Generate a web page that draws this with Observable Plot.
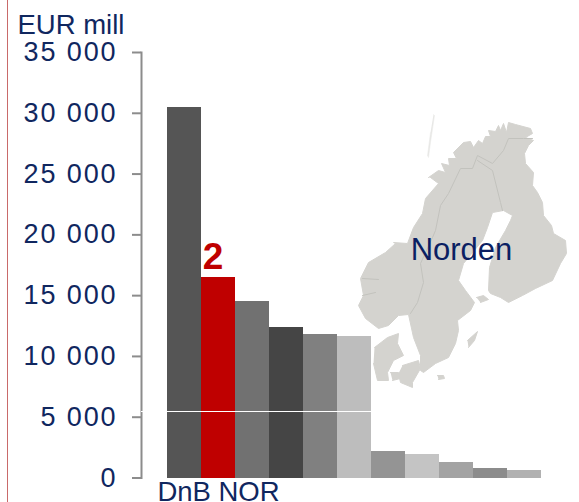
<!DOCTYPE html>
<html><head><meta charset="utf-8">
<script src="https://cdn.jsdelivr.net/npm/d3@7"></script>
<script src="https://cdn.jsdelivr.net/npm/@observablehq/plot@0.6"></script>
<style>
html,body{margin:0;padding:0;background:#fff;overflow:hidden}
#wrap{position:relative;width:579px;height:502px;overflow:hidden}
#wrap svg{position:absolute;overflow:hidden}
#edge{position:absolute;left:7px;top:0;width:1px;height:502px;background:#c96a6a}
#wrap g[aria-label="y-axis tick label"] text{letter-spacing:1.9px}
#wrap g.land{filter:blur(0.4px)}
</style></head><body>
<div id="wrap"><div id="edge"></div></div>
<script>
const ranks = [1,2,3,4,5,6,7,8,9,10,11];
const values = [30480,16500,14500,12380,11800,11640,2180,1930,1270,780,620];
const barColors = ["#555555","#bf0000","#717171","#454545","#808080","#bdbdbd","#949494","#c4c4c4","#a3a3a3","#8c8c8c","#b1b1b1"];
const barLabels = ["","DnB NOR","","","","","","","","",""];
const yTicks = [0,5000,10000,15000,20000,25000,30000,35000];
const navy = "#10275f";
const fmt = d => d3.format(",")(d).replace(",", " ");

// Map outlines as [east, north] map units
const mainland = [[73,218],[83,225],[90,223],[86,232],[94,230],[93,237],[101,237],[98,243],[108,253],[115,254],[118,248],[123,255],[127,252],[130,259],[135,259],[133,265],[140,264],[143,270],[145,265],[148,272],[151,263],[153,273],[160,271],[175,267],[177,262],[170,258],[178,255],[173,250],[169,242],[170,232],[178,223],[177,210],[182,203],[187,193],[188,180],[196,170],[198,162],[210,155],[211,142],[205,132],[197,115],[180,107],[167,100],[153,93],[145,98],[135,102],[133,105],[134,128],[140,148],[150,165],[155,175],[157,180],[148,185],[137,183],[132,168],[127,155],[108,132],[103,115],[110,105],[119,93],[115,85],[102,75],[103,65],[100,52],[93,38],[80,32],[68,23],[65,25],[65,40],[58,58],[53,81],[43,80],[33,70],[23,67],[10,77],[3,90],[8,100],[5,117],[13,133],[30,143],[40,152],[38,153],[52,152],[58,168],[67,182],[70,197],[83,212],[75,218]];
const jutland = [[19,48],[32,58],[43,62],[42,52],[48,40],[38,35],[32,23],[33,15],[22,15],[18,32]];
const zealand = [[47,30],[63,35],[65,27],[57,13],[57,8],[45,13],[43,22]];
const funen = [[35,23],[43,23],[45,17],[37,15]];
const gotland = [[112,55],[122,64],[119,55],[113,48]];
const bornholm = [[82,20],[88,20],[89,17],[83,16]];
const aland = [[121,98],[128,100],[133,96],[125,93]];
const svalbardTrace = [[78,281],[79,280],[75,253],[73,238],[72,240],[75,263]];
const borderNorway = [[177,257],[168,257],[153,257],[148,245],[137,232],[122,240],[117,227],[105,227],[93,202],[85,190],[80,165],[77,158],[65,132],[68,113],[62,93],[55,82]];
const borderFinland = [[122,235],[137,225],[145,193],[147,185]];
const fjordNorth = [[7,117],[23,116]];
const fjordSouth = [[7,100],[20,103]];

const rows = (name, pts) => pts.map(([east, north]) => ({name, east, north}));
const landParts = {mainland, jutland, zealand, funen, gotland, bornholm, aland};
const landRows = Object.entries(landParts).flatMap(([k, v]) => rows(k, v));
const borderRows = [...rows("no", borderNorway), ...rows("fi", borderFinland), ...rows("f1", fjordNorth), ...rows("f2", fjordSouth)];

const mapPlot = Plot.plot({
  width: 215, height: 285, margin: 0,
  style: {background: "transparent"},
  x: {domain: [0,215], axis: null},
  y: {domain: [0,285], axis: null},
  marks: [
    Plot.line(rows("svalbard", svalbardTrace), {x:"east", y:"north", fill:"#e8e8e6", stroke:"#e8e8e6", strokeWidth:0.5, className:"land"}),
    Plot.line(landRows, {x:"east", y:"north", z:"name", fill:"#d4d3cf", stroke:"#d4d3cf", strokeWidth:1, strokeLinejoin:"round", className:"land"}),
    Plot.line(borderRows, {x:"east", y:"north", z:"name", stroke:"#c2c2bd", strokeWidth:1, className:"land"}),
    Plot.text(["Norden"], {x:[106], y:[145], text:d=>d, fontSize:31, fill:"#0b1f63", fontFamily:"Liberation Sans"})
  ]
});
mapPlot.style.left = "355px";
mapPlot.style.top = "110px";

const data = ranks.map((rank,i)=>({rank, value:values[i], color:barColors[i]}));
const chart = Plot.plot({
  width: 579, height: 502,
  marginTop: 52, marginBottom: 24.5, marginLeft: 141, marginRight: 37,
  style: {background:"transparent", fontFamily:"Liberation Sans"},
  x: {domain: ranks, range:[166.6,542], padding:0, label:null},
  y: {domain:[0,35000], label:null},
  marks: [
    Plot.barY(data, {x:"rank", y:"value", fill:"color", shapeRendering:"crispEdges"}),
    Plot.axisY({ticks:yTicks, tickSize:9, tickPadding:15, tickFormat:fmt, stroke:"#8c8c8c", strokeWidth:2, fontSize:27, fill:navy, label:null}),
    Plot.axisX({ticks:[2], tickSize:0, tickPadding:3.5, tickFormat:d=>barLabels[d-1], fontSize:27.5, fill:navy, label:null}),
    Plot.frame({anchor:"left", stroke:"#8c8c8c", strokeWidth:2}),
    Plot.ruleY([5430], {stroke:"#fff", strokeWidth:1, shapeRendering:"crispEdges"}),
    Plot.text(["2"], {x:[2], y:[16500], text:d=>d, dx:-5.5, dy:-20, fontSize:37, fontWeight:"bold", fill:"#bf0000"}),
    Plot.text(["EUR mill"], {frameAnchor:"top-left", text:d=>d, dx:-124, dy:-19, lineAnchor:"bottom", textAnchor:"start", fontSize:27.5, fill:navy})
  ]
});
const wrap = document.getElementById("wrap");
wrap.append(mapPlot, chart);
</script>
</body></html>
